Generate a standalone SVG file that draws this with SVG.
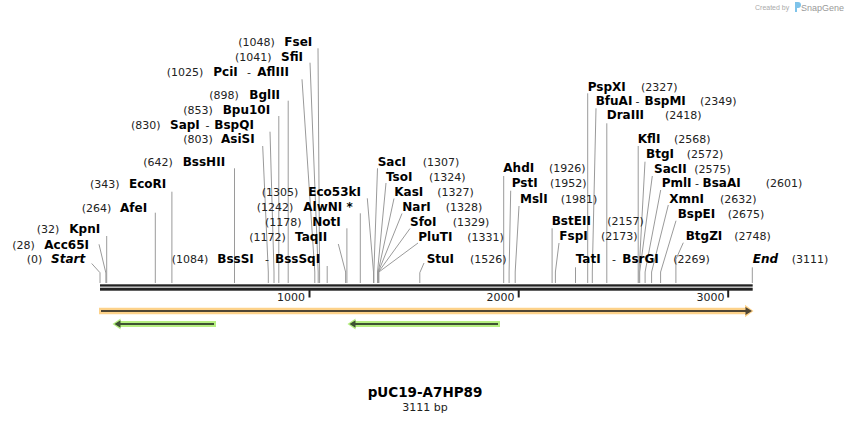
<svg xmlns="http://www.w3.org/2000/svg" width="852" height="423" viewBox="0 0 852 423">
<style>
.p{font-family:"DejaVu Sans",Verdana,sans-serif;font-size:11px;fill:#222}
.n{font-family:"DejaVu Sans",Verdana,sans-serif;font-size:12px;font-weight:bold;fill:#000}
.it{font-style:italic}
.c{stroke:#9a9a9a;stroke-width:1;fill:none}
.bar{fill:#222}
.tk{font-family:"DejaVu Sans",Verdana,sans-serif;font-size:11px;fill:#222;text-anchor:end}
</style>
<rect width="852" height="423" fill="#fff"/>
<g id="watermark">
<text x="755" y="10" font-family="Liberation Sans,Arial,sans-serif" font-size="7" fill="#aaa">Created by</text>
<path d="M795,2 h3 a3,3 0 0 1 0,6 h-1 v4 h-2 z" fill="#7ec3ea"/>
<text x="801" y="11" font-family="Liberation Sans,Arial,sans-serif" font-size="9" fill="#999">SnapGene</text>
</g>
<g id="connectors">
<polyline class="c" points="91.7,263.5 100,272.7 100,283"/>
<polyline class="c" points="99,244.3 105.9,273 105.9,283"/>
<polyline class="c" points="106.7,236 106.7,283"/>
<polyline class="c" points="155.3,212.7 155.3,283"/>
<polyline class="c" points="171.9,191.7 171.9,283"/>
<polyline class="c" points="234.5,168.3 234.5,283"/>
<polyline class="c" points="327.2,266 327.2,283"/>
<polyline class="c" points="338.3,244 345.6,272 345.6,283"/>
<polyline class="c" points="346.9,228.3 346.9,283"/>
<polyline class="c" points="360.3,213.3 360.3,283"/>
<polyline class="c" points="367.3,198.3 373.5,272 373.5,283"/>
<polyline class="c" points="262.7,146 268.3,272 268.3,283"/>
<polyline class="c" points="270,131.7 274,272 274,283"/>
<polyline class="c" points="278.8,116 278.8,283"/>
<polyline class="c" points="288.2,100.7 288.2,283"/>
<polyline class="c" points="302,79.3 314.8,272 314.8,283"/>
<polyline class="c" points="310,62.7 318.2,272 318.2,283"/>
<polyline class="c" points="318,48.3 319.6,272 319.6,283"/>
<polyline class="c" points="377.5,168.3 373.9,272 373.9,283"/>
<polyline class="c" points="386,183 377.5,272 377.5,283"/>
<polyline class="c" points="394,198.5 378.1,272 378.1,283"/>
<polyline class="c" points="402,213.5 378.3,272 378.3,283"/>
<polyline class="c" points="410,228.5 378.5,272 378.5,283"/>
<polyline class="c" points="418,243 378.9,272 378.9,283"/>
<polyline class="c" points="424,263 419.8,272.7 419.8,283"/>
<polyline class="c" points="503.7,176 503.7,283"/>
<polyline class="c" points="510.7,190.7 509.1,272 509.1,283"/>
<polyline class="c" points="519,206 515.2,272 515.2,283"/>
<polyline class="c" points="552.1,228.3 552.1,283"/>
<polyline class="c" points="559,243 555.4,272 555.4,283"/>
<polyline class="c" points="575.5,267.3 575.5,283"/>
<polyline class="c" points="587.7,93.3 587.7,283"/>
<polyline class="c" points="596,108.3 592.3,272 592.3,283"/>
<polyline class="c" points="606.8,123.3 606.8,283"/>
<polyline class="c" points="638.2,146 638.2,283"/>
<polyline class="c" points="645,161.7 639,272 639,283"/>
<polyline class="c" points="652.3,176 639.7,272 639.7,283"/>
<polyline class="c" points="660.7,190 645.1,272 645.1,283"/>
<polyline class="c" points="668.3,205 651.6,272 651.6,283"/>
<polyline class="c" points="676,220.7 660.6,272 660.6,283"/>
<polyline class="c" points="683.3,242.7 675.9,259.3 675.9,283"/>
<polyline class="c" points="752.3,267.3 752.3,283"/>
</g>
<g id="backbone">
<rect class="bar" x="100" y="284.3" width="652.7" height="2.3"/>
<rect class="bar" x="100" y="287.7" width="652.7" height="3"/>
<rect class="bar" x="308.5" y="290" width="2" height="7.5"/>
<rect class="bar" x="517.7" y="290" width="2" height="7.5"/>
<rect class="bar" x="727.2" y="290" width="2" height="7.5"/>
<text class="tk" x="305" y="301">1000</text>
<text class="tk" x="514.5" y="301">2000</text>
<text class="tk" x="724.5" y="301">3000</text>
</g>
<g id="feature-orange">
<path d="M99,307.7 H745 V304.8 L753.5,311 L745,317.2 V314.3 H99 Z" fill="#fdd28a"/>
<rect x="101" y="310" width="646" height="2" fill="#4f4533"/>
<path d="M745.5,307 L752,311 L745.5,315 Z" fill="#4f4533"/>
</g>
<g id="feature-green-1">
<path d="M216,321 H120.5 V318.5 L112.5,324 L120.5,329.5 V327 H216 Z" fill="#b6ef80"/>
<rect x="119" y="323" width="95" height="2" fill="#3e5232"/>
<path d="M120.5,320.3 L114.5,324 L120.5,327.7 Z" fill="#3e5232"/>
</g>
<g id="feature-green-2">
<path d="M500,321 H355.5 V318.5 L347.5,324 L355.5,329.5 V327 H500 Z" fill="#b6ef80"/>
<rect x="354" y="323" width="144" height="2" fill="#3e5232"/>
<path d="M355.5,320.3 L349.5,324 L355.5,327.7 Z" fill="#3e5232"/>
</g>
<g id="site-Start"><text class="p" x="26.7" y="263.3">(0)</text><text class="n it" x="51" y="263.3">Start</text></g>
<g id="site-Acc65I"><text class="p" x="12.3" y="249">(28)</text><text class="n" x="44.3" y="249">Acc65I</text></g>
<g id="site-KpnI"><text class="p" x="36.7" y="233.3">(32)</text><text class="n" x="69.3" y="233.3">KpnI</text></g>
<g id="site-AfeI"><text class="p" x="81.7" y="211.7">(264)</text><text class="n" x="120" y="211.7">AfeI</text></g>
<g id="site-EcoRI"><text class="p" x="90" y="188.3">(343)</text><text class="n" x="129" y="188.3">EcoRI</text></g>
<g id="site-BssHII"><text class="p" x="143.3" y="166">(642)</text><text class="n" x="182.7" y="166">BssHII</text></g>
<g id="site-BssSI"><text class="p" x="171.7" y="263.3">(1084)</text><text class="n" x="217.3" y="263.3">BssSI</text><text class="p" x="265" y="263.3">-</text><text class="n" x="275" y="263.3">BssSqI</text></g>
<g id="site-TaqII"><text class="p" x="249.3" y="240.7">(1172)</text><text class="n" x="295" y="240.7">TaqII</text></g>
<g id="site-NotI"><text class="p" x="265" y="226">(1178)</text><text class="n" x="312.3" y="226">NotI</text></g>
<g id="site-AlwNI"><text class="p" x="256.7" y="210.7">(1242)</text><text class="n" x="303.3" y="210.7">AlwNI *</text></g>
<g id="site-Eco53kI"><text class="p" x="261.7" y="196">(1305)</text><text class="n" x="308.3" y="196">Eco53kI</text></g>
<g id="site-AsiSI"><text class="p" x="183.3" y="143.3">(803)</text><text class="n" x="221" y="143.3">AsiSI</text></g>
<g id="site-SapI"><text class="p" x="131" y="129">(830)</text><text class="n" x="170" y="129">SapI</text><text class="p" x="205.5" y="129">-</text><text class="n" x="214.3" y="129">BspQI</text></g>
<g id="site-Bpu10I"><text class="p" x="183.3" y="114">(853)</text><text class="n" x="222.7" y="114">Bpu10I</text></g>
<g id="site-BglII"><text class="p" x="209.3" y="99">(898)</text><text class="n" x="249.3" y="99">BglII</text></g>
<g id="site-PciI"><text class="p" x="166.7" y="75.7">(1025)</text><text class="n" x="213.3" y="75.7">PciI</text><text class="p" x="247" y="75.7">-</text><text class="n" x="257.3" y="75.7">AflIII</text></g>
<g id="site-SfiI"><text class="p" x="235" y="60.7">(1041)</text><text class="n" x="281" y="60.7">SfiI</text></g>
<g id="site-FseI"><text class="p" x="238.3" y="46">(1048)</text><text class="n" x="284.3" y="46">FseI</text></g>
<g id="site-SacI"><text class="n" x="377.7" y="166">SacI</text><text class="p" x="422.7" y="166">(1307)</text></g>
<g id="site-TsoI"><text class="n" x="386" y="180.7">TsoI</text><text class="p" x="429" y="180.7">(1324)</text></g>
<g id="site-KasI"><text class="n" x="394.3" y="196">KasI</text><text class="p" x="437.3" y="196">(1327)</text></g>
<g id="site-NarI"><text class="n" x="402.3" y="211">NarI</text><text class="p" x="445.7" y="211">(1328)</text></g>
<g id="site-SfoI"><text class="n" x="410" y="226">SfoI</text><text class="p" x="452.7" y="226">(1329)</text></g>
<g id="site-PluTI"><text class="n" x="418.3" y="240.7">PluTI</text><text class="p" x="467.3" y="240.7">(1331)</text></g>
<g id="site-StuI"><text class="n" x="426.7" y="263.3">StuI</text><text class="p" x="470" y="263.3">(1526)</text></g>
<g id="site-AhdI"><text class="n" x="503.3" y="171.7">AhdI</text><text class="p" x="549" y="171.7">(1926)</text></g>
<g id="site-PstI"><text class="n" x="511.7" y="187.3">PstI</text><text class="p" x="550" y="187.3">(1952)</text></g>
<g id="site-MslI"><text class="n" x="520" y="202.7">MslI</text><text class="p" x="560.7" y="202.7">(1981)</text></g>
<g id="site-BstEII"><text class="n" x="551.7" y="225">BstEII</text><text class="p" x="607.3" y="225">(2157)</text></g>
<g id="site-FspI"><text class="n" x="559.3" y="240">FspI</text><text class="p" x="601" y="240">(2173)</text></g>
<g id="site-TatI"><text class="n" x="575.7" y="263.3">TatI</text><text class="p" x="612" y="263.3">-</text><text class="n" x="622.3" y="263.3">BsrGI</text><text class="p" x="673.3" y="263.3">(2269)</text></g>
<g id="site-PspXI"><text class="n" x="587.7" y="90.7">PspXI</text><text class="p" x="641" y="90.7">(2327)</text></g>
<g id="site-BfuAI"><text class="n" x="595.7" y="105">BfuAI</text><text class="p" x="635.5" y="105">-</text><text class="n" x="644.5" y="105">BspMI</text><text class="p" x="700" y="105">(2349)</text></g>
<g id="site-DraIII"><text class="n" x="606.7" y="119.3">DraIII</text><text class="p" x="665" y="119.3">(2418)</text></g>
<g id="site-KflI"><text class="n" x="637.7" y="143.3">KflI</text><text class="p" x="674" y="143.3">(2568)</text></g>
<g id="site-BtgI"><text class="n" x="646" y="158.3">BtgI</text><text class="p" x="686.7" y="158.3">(2572)</text></g>
<g id="site-SacII"><text class="n" x="654" y="172.7">SacII</text><text class="p" x="694.3" y="172.7">(2575)</text></g>
<g id="site-PmlI"><text class="n" x="661.7" y="187.3">PmlI</text><text class="p" x="695" y="187.3">-</text><text class="n" x="702.5" y="187.3">BsaAI</text><text class="p" x="765.7" y="187.3">(2601)</text></g>
<g id="site-XmnI"><text class="n" x="669.3" y="202.7">XmnI</text><text class="p" x="720" y="202.7">(2632)</text></g>
<g id="site-BspEI"><text class="n" x="677.7" y="217.7">BspEI</text><text class="p" x="727.7" y="217.7">(2675)</text></g>
<g id="site-BtgZI"><text class="n" x="685.7" y="240">BtgZI</text><text class="p" x="734.3" y="240">(2748)</text></g>
<g id="site-End"><text class="n it" x="752.7" y="263.3">End</text><text class="p" x="791.7" y="263.3">(3111)</text></g>
<g id="title">
<text x="425" y="396.7" text-anchor="middle" font-family="DejaVu Sans,Verdana,sans-serif" font-size="13.5" font-weight="bold" fill="#000">pUC19-A7HP89</text>
<text x="425" y="410.5" text-anchor="middle" font-family="DejaVu Sans,Verdana,sans-serif" font-size="11" fill="#222">3111 bp</text>
</g>
</svg>
